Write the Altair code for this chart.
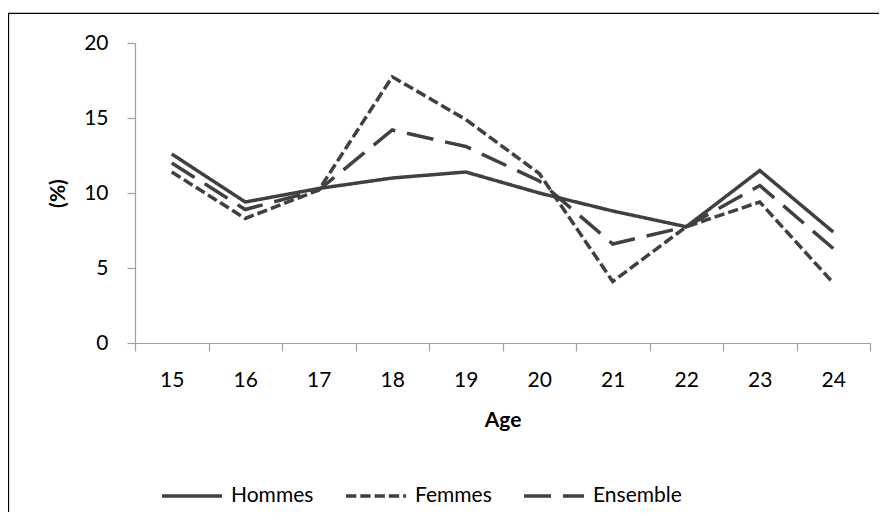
import altair as alt
import pandas as pd

ages = [15, 16, 17, 18, 19, 20, 21, 22, 23, 24]
hommes = [12.6, 9.4, 10.3, 11.0, 11.4, 10.0, 8.8, 7.75, 11.5, 7.4]
femmes = [11.4, 8.3, 10.2, 17.75, 14.9, 11.3, 4.1, 7.75, 9.4, 4.0]
ensemble = [12.0, 8.9, 10.2, 14.2, 13.1, 10.8, 6.6, 7.75, 10.5, 6.3]
series = ["Hommes", "Femmes", "Ensemble"]
dashes = [[1, 0], [10.3, 4], [27, 12]]
y_ticks = [0, 5, 10, 15, 20]

rows = []
for name, vals in zip(series, [hommes, femmes, ensemble]):
    for a, v in zip(ages, vals):
        rows.append({"age": a, "pct": v, "serie": name})
df = pd.DataFrame(rows)

FONT = "Lato"
LINE = "#404040"
AXIS = "#a0a0a0"

lines = alt.Chart(df).mark_line(strokeWidth=3.5, color=LINE).encode(
    x=alt.X(
        "age:O",
        bandPosition=0.5,
        scale=alt.Scale(type="band", paddingInner=0, paddingOuter=0),
        axis=alt.Axis(
            title="Age",
            tickBand="extent",
            labelAngle=0,
            labelPadding=18,
            titleY=77,
            titleBaseline="middle",
        ),
    ),
    y=alt.Y(
        "pct:Q",
        scale=alt.Scale(domain=[0, 20]),
        axis=alt.Axis(
            values=y_ticks,
            title="(%)",
            grid=False,
            labelPadding=19,
            titleX=-77,
            titleY=150,
            titleBaseline="middle",
        ),
    ),
    strokeDash=alt.StrokeDash(
        "serie:N",
        sort=series,
        scale=alt.Scale(domain=series, range=dashes),
        legend=alt.Legend(
            title=None,
            orient="none",
            direction="horizontal",
            legendX=25,
            legendY=421,
            symbolType="stroke",
            symbolSize=3600,
            symbolStrokeWidth=3.5,
            symbolStrokeColor=LINE,
            labelFont=FONT,
            labelFontSize=21,
            labelColor="black",
            labelOffset=7,
            columnPadding=25,
        ),
    ),
)

one = pd.DataFrame({"a": [0]})
frame_top = alt.Chart(one).mark_rule(color="black", strokeWidth=1.3).encode(
    x=alt.value(-126.5), x2=alt.value(744), y=alt.value(-29.7)
)
frame_left = alt.Chart(one).mark_rule(color="black", strokeWidth=1.3).encode(
    x=alt.value(-126.5), y=alt.value(-30.3), y2=alt.value(469)
)

chart = (
    alt.layer(frame_top, frame_left, lines)
    .properties(
        width=735,
        height=300,
        padding={"left": 127, "top": 35, "right": 12, "bottom": 173},
        autosize=alt.AutoSizeParams(type="none"),
        background="white",
    )
    .configure_view(stroke="transparent")
    .configure_axis(
        domainColor=AXIS,
        tickColor=AXIS,
        tickSize=8,
        domainWidth=1.2,
        tickWidth=1.2,
        labelFont=FONT,
        labelFontSize=21,
        labelColor="black",
        titleFont=FONT,
        titleFontSize=21,
        titleFontWeight="bold",
        titleColor="black",
    )
)

chart.save("out.html", embed_options={"renderer": "svg", "actions": False})
